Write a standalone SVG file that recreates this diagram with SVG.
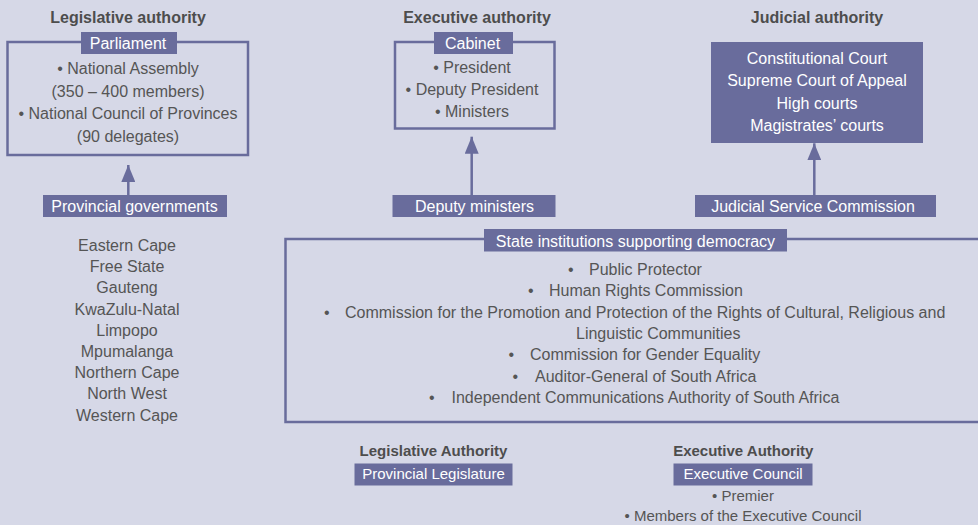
<svg xmlns="http://www.w3.org/2000/svg" width="978" height="525" viewBox="0 0 978 525">
<defs>
<style>
text{font-family:"Liberation Sans",Arial,sans-serif;font-size:16px;fill:#555555}
.t{font-weight:bold;fill:#4d4d4d;text-anchor:middle}
.t2{font-weight:bold;fill:#4d4d4d;text-anchor:middle;font-size:15px}
.c{text-anchor:middle}
.w{fill:#ffffff;text-anchor:middle}
.w15{fill:#ffffff;text-anchor:middle;font-size:15px}
.s15{font-size:15px;text-anchor:middle}
.box{fill:none;stroke:#696c9c;stroke-width:2.5}
.lab{fill:#696c9c}
.con{stroke:#696c9c;stroke-width:2.5;fill:none}
</style>
<marker id="ah" viewBox="0 0 17 14" refX="17" refY="7" markerWidth="17" markerHeight="14" markerUnits="userSpaceOnUse" orient="auto">
<path d="M0 0 L17 7 L0 14 Z" fill="#696c9c"/>
</marker>
</defs>
<rect width="978" height="525" fill="#d6d8e7"/>

<g id="titles">
<text class="t" x="128" y="23">Legislative authority</text>
<text class="t" x="477" y="23">Executive authority</text>
<text class="t" x="817" y="23">Judicial authority</text>
</g>

<g id="parliament">
<rect class="box" x="7.5" y="42" width="240.5" height="113"/>
<rect class="lab" x="81" y="32" width="96" height="22"/>
<text class="w" x="128" y="49">Parliament</text>
<text class="c" x="128" y="74">• National Assembly</text>
<text class="c" x="128" y="96.5">(350 – 400 members)</text>
<text class="c" x="128" y="119">• National Council of Provinces</text>
<text class="c" x="128" y="141.5">(90 delegates)</text>
</g>

<g id="cabinet">
<rect class="box" x="395" y="42" width="159.5" height="86.5"/>
<rect class="lab" x="434" y="32" width="79" height="22"/>
<text class="w" x="472.5" y="49">Cabinet</text>
<text class="c" x="472" y="72.5">• President</text>
<text class="c" x="472" y="94.5">• Deputy President</text>
<text class="c" x="472" y="117">• Ministers</text>
</g>

<g id="judicial">
<rect class="lab" x="711" y="42" width="212" height="101"/>
<text class="w" x="817" y="63.5">Constitutional Court</text>
<text class="w" x="817" y="86">Supreme Court of Appeal</text>
<text class="w" x="817" y="108.5">High courts</text>
<text class="w" x="817" y="131">Magistrates’ courts</text>
</g>

<g id="provincial-governments">
<rect class="lab" x="43" y="195" width="184" height="22"/>
<text class="w" x="134.5" y="212">Provincial governments</text>
</g>

<g id="deputy-ministers">
<rect class="lab" x="392.5" y="195" width="163" height="22"/>
<text class="w" x="474.5" y="212">Deputy ministers</text>
</g>

<g id="judicial-service-commission">
<rect class="lab" x="695" y="195" width="241" height="22"/>
<text class="w" x="813" y="212">Judicial Service Commission</text>
</g>

<g id="provinces">
<text class="c" x="127" y="251">Eastern Cape</text>
<text class="c" x="127" y="272.2">Free State</text>
<text class="c" x="127" y="293.4">Gauteng</text>
<text class="c" x="127" y="314.6">KwaZulu-Natal</text>
<text class="c" x="127" y="335.8">Limpopo</text>
<text class="c" x="127" y="357">Mpumalanga</text>
<text class="c" x="127" y="378.2">Northern Cape</text>
<text class="c" x="127" y="399.4">North West</text>
<text class="c" x="127" y="420.6">Western Cape</text>
</g>

<g id="state-institutions">
<rect class="box" x="285.5" y="239" width="710" height="183"/>
<rect class="lab" x="484" y="229" width="303" height="22.5"/>
<text class="w" x="635.5" y="246.5">State institutions supporting democracy</text>
<text x="568" y="275">•</text><text x="589" y="275">Public Protector</text>
<text x="528" y="296">•</text><text x="549" y="296">Human Rights Commission</text>
<text x="324" y="317.5">•</text><text x="345" y="317.5">Commission for the Promotion and Protection of the Rights of Cultural, Religious and</text>
<text x="576" y="338.5">Linguistic Communities</text>
<text x="508.5" y="360">•</text><text x="530" y="360">Commission for Gender Equality</text>
<text x="512.5" y="381.5">•</text><text x="535" y="381.5">Auditor-General of South Africa</text>
<text x="429" y="402.7">•</text><text x="451.5" y="402.7">Independent Communications Authority of South Africa</text>
</g>

<g id="provincial-legislature">
<text class="t2" x="433.5" y="456">Legislative Authority</text>
<rect class="lab" x="354.5" y="463.5" width="158" height="22"/>
<text class="w15" x="433.5" y="478.5">Provincial Legislature</text>
</g>

<g id="executive-council">
<text class="t2" x="743.3" y="456">Executive Authority</text>
<rect class="lab" x="673.5" y="463.5" width="139" height="22"/>
<text class="w15" x="743" y="478.5">Executive Council</text>
<text class="s15" x="743" y="500.7">• Premier</text>
<text class="s15" x="743" y="520.7">• Members of the Executive Council</text>
</g>

<g id="connectors">
<line class="con" x1="128.3" y1="195" x2="128.3" y2="165" marker-end="url(#ah)"/>
<line class="con" x1="471.7" y1="195" x2="471.7" y2="136.7" marker-end="url(#ah)"/>
<line class="con" x1="814.3" y1="195" x2="814.3" y2="143.3" marker-end="url(#ah)"/>
</g>
</svg>
